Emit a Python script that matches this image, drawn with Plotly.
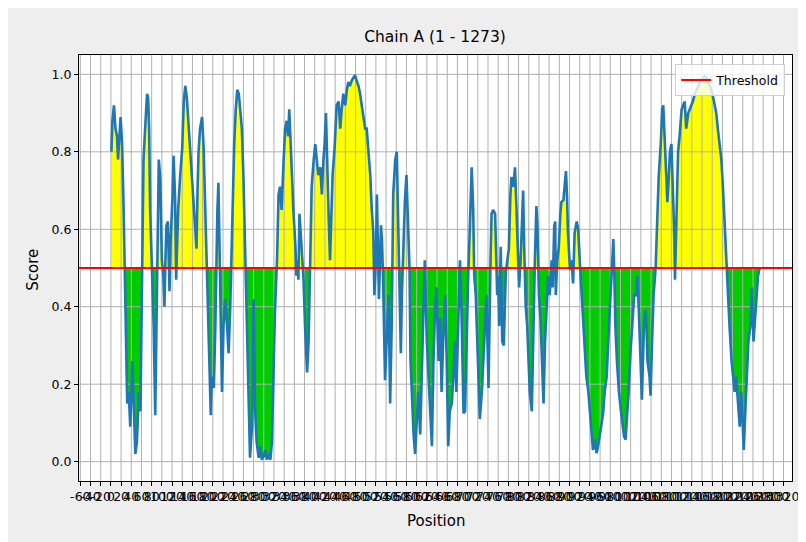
import numpy as np
import plotly.graph_objects as go

# ---- data ----
positions = [1, 3, 6, 9, 12, 14, 19, 22, 25, 27, 30, 32, 35, 38, 42, 45, 48, 51, 55, 58,
             60, 62, 64, 68, 71, 73, 75, 77, 81, 84, 87, 89, 92, 94, 97, 100, 103, 105, 107, 109,
             112, 115, 117, 119, 121, 123, 126, 128, 132, 136, 140, 143, 146, 149, 153, 156, 159, 162, 166, 168,
             170, 172, 175, 179, 182, 185, 188, 192, 194, 196, 198, 202, 205, 207, 209, 211, 213, 216, 218, 221,
             224, 228, 231, 234, 236, 239, 242, 245, 248, 251, 254, 257, 260, 264, 267, 270, 273, 277, 280, 283,
             286, 290, 293, 296, 300, 303, 306, 309, 313, 316, 319, 322, 326, 329, 332, 335, 339, 342, 345, 348,
             350, 352, 355, 358, 362, 364, 366, 368, 370, 373, 376, 378, 381, 383, 385, 388, 390, 392, 394, 398,
             401, 404, 407, 411, 414, 417, 419, 422, 424, 427, 430, 432, 435, 439, 443, 447, 450, 453, 456, 460,
             463, 466, 469, 473, 476, 479, 482, 486, 489, 492, 496, 499, 502, 505, 509, 512, 515, 517, 520, 522,
             524, 526, 530, 532, 534, 536, 538, 541, 545, 548, 551, 554, 558, 561, 563, 565, 569, 571, 574, 577,
             580, 584, 586, 588, 590, 594, 597, 600, 603, 607, 610, 613, 616, 620, 623, 626, 630, 633, 636, 639,
             643, 646, 649, 652, 656, 659, 662, 665, 669, 672, 675, 678, 682, 685, 688, 692, 695, 698, 701, 705,
             708, 711, 713, 716, 718, 721, 724, 728, 731, 734, 737, 741, 743, 745, 747, 750, 754, 756, 758, 760,
             762, 765, 768, 771, 773, 775, 778, 781, 784, 786, 790, 793, 796, 799, 801, 804, 806, 809, 811, 814,
             817, 819, 822, 826, 829, 832, 835, 837, 840, 843, 846, 849, 852, 855, 858, 861, 865, 867, 870, 872,
             873, 876, 879, 882, 884, 888, 891, 893, 895, 897, 901, 904, 907, 910, 914, 917, 920, 924, 927, 930,
             933, 937, 940, 943, 946, 950, 953, 956, 959, 963, 966, 969, 973, 976, 979, 982, 986, 988, 990, 993,
             997, 1001, 1004, 1007, 1010, 1014, 1016, 1020, 1023, 1027, 1030, 1033, 1036, 1040, 1042, 1046, 1049, 1051, 1053, 1057,
             1059, 1062, 1065, 1069, 1072, 1075, 1079, 1082, 1084, 1087, 1090, 1092, 1095, 1097, 1100, 1103, 1105, 1107, 1110, 1113,
             1116, 1120, 1123, 1126, 1129, 1133, 1136, 1139, 1142, 1146, 1149, 1152, 1155, 1159, 1162, 1165, 1169, 1172, 1175, 1178,
             1182, 1185, 1188, 1191, 1195, 1198, 1201, 1204, 1208, 1211, 1214, 1218, 1221, 1224, 1227, 1231, 1234, 1237, 1240, 1242,
             1245, 1248, 1251, 1255, 1258, 1261, 1265, 1268, 1270, 1273]

scores = [0.80, 0.88, 0.92, 0.86, 0.84, 0.78, 0.89, 0.82, 0.65, 0.50, 0.26, 0.15, 0.18, 0.09, 0.26, 0.13, 0.02, 0.05, 0.18, 0.13,
          0.35, 0.52, 0.78, 0.88, 0.95, 0.94, 0.86, 0.65, 0.50, 0.35, 0.12, 0.35, 0.61, 0.78, 0.73, 0.52, 0.48, 0.40, 0.52, 0.61,
          0.62, 0.44, 0.56, 0.62, 0.69, 0.79, 0.68, 0.47, 0.65, 0.74, 0.81, 0.93, 0.97, 0.94, 0.86, 0.81, 0.74, 0.69, 0.61, 0.55,
          0.70, 0.80, 0.86, 0.89, 0.81, 0.65, 0.50, 0.31, 0.18, 0.12, 0.22, 0.19, 0.35, 0.52, 0.65, 0.72, 0.56, 0.43, 0.18, 0.35,
          0.42, 0.35, 0.28, 0.39, 0.50, 0.65, 0.82, 0.91, 0.96, 0.95, 0.91, 0.86, 0.74, 0.52, 0.39, 0.18, 0.01, 0.09, 0.42, 0.13,
          0.05, 0.01, 0.04, 0.005, 0.014, 0.03, 0.005, 0.02, 0.005, 0.05, 0.22, 0.39, 0.52, 0.69, 0.71, 0.65, 0.78, 0.86, 0.88, 0.84,
          0.91, 0.82, 0.75, 0.65, 0.56, 0.48, 0.52, 0.47, 0.64, 0.58, 0.52, 0.47, 0.35, 0.28, 0.23, 0.31, 0.43, 0.61, 0.71, 0.78,
          0.82, 0.78, 0.74, 0.76, 0.69, 0.78, 0.81, 0.90, 0.78, 0.65, 0.52, 0.61, 0.74, 0.81, 0.92, 0.93, 0.86, 0.91, 0.95, 0.92,
          0.96, 0.98, 0.97, 0.985, 0.993, 0.998, 0.985, 0.97, 0.95, 0.92, 0.89, 0.86, 0.86, 0.80, 0.74, 0.65, 0.59, 0.43, 0.52, 0.69,
          0.50, 0.42, 0.61, 0.57, 0.48, 0.35, 0.21, 0.31, 0.43, 0.15, 0.35, 0.69, 0.78, 0.80, 0.69, 0.52, 0.28, 0.43, 0.56, 0.675,
          0.74, 0.61, 0.50, 0.26, 0.18, 0.07, 0.02, 0.09, 0.18, 0.07, 0.22, 0.35, 0.52, 0.31, 0.22, 0.13, 0.04, 0.26, 0.39, 0.45,
          0.26, 0.37, 0.18, 0.31, 0.43, 0.26, 0.04, 0.13, 0.15, 0.22, 0.31, 0.18, 0.35, 0.52, 0.39, 0.125, 0.13, 0.35, 0.47, 0.63,
          0.76, 0.65, 0.48, 0.43, 0.35, 0.26, 0.11, 0.18, 0.26, 0.35, 0.43, 0.19, 0.43, 0.52, 0.64, 0.65, 0.64, 0.52, 0.43, 0.48,
          0.35, 0.555, 0.31, 0.30, 0.43, 0.49, 0.52, 0.55, 0.69, 0.735, 0.71, 0.76, 0.65, 0.55, 0.45, 0.52, 0.62, 0.70, 0.555, 0.40,
          0.35, 0.26, 0.18, 0.13, 0.35, 0.52, 0.66, 0.61, 0.43, 0.37, 0.26, 0.15, 0.31, 0.39, 0.48, 0.43, 0.52, 0.45, 0.61, 0.62,
          0.43, 0.52, 0.555, 0.64, 0.67, 0.675, 0.735, 0.75, 0.69, 0.59, 0.495, 0.52, 0.46, 0.59, 0.62, 0.60, 0.52, 0.43, 0.35, 0.29,
          0.22, 0.18, 0.13, 0.065, 0.03, 0.057, 0.022, 0.04, 0.065, 0.09, 0.125, 0.18, 0.22, 0.31, 0.39, 0.48, 0.575, 0.48, 0.35, 0.26,
          0.18, 0.13, 0.10, 0.065, 0.057, 0.13, 0.18, 0.29, 0.35, 0.43, 0.43, 0.48, 0.39, 0.26, 0.16, 0.35, 0.39, 0.35, 0.26, 0.22,
          0.17, 0.31, 0.43, 0.50, 0.61, 0.735, 0.82, 0.91, 0.92, 0.82, 0.71, 0.67, 0.74, 0.80, 0.82, 0.71, 0.61, 0.47, 0.65, 0.80,
          0.84, 0.91, 0.92, 0.93, 0.86, 0.90, 0.91, 0.92, 0.93, 0.95, 0.96, 0.97, 0.976, 0.985, 0.99, 0.995, 0.99, 0.98, 0.97, 0.96,
          0.94, 0.92, 0.90, 0.86, 0.82, 0.78, 0.71, 0.62, 0.50, 0.43, 0.35, 0.26, 0.21, 0.18, 0.22, 0.13, 0.09, 0.18, 0.09, 0.03,
          0.13, 0.22, 0.31, 0.35, 0.45, 0.31, 0.39, 0.43, 0.48, 0.50]

THRESHOLD = 0.5
x_ticks = list(range(-60, 1321, 20))
y_ticks = [0.0, 0.2, 0.4, 0.6, 0.8, 1.0]
chain_title = "Chain A (1 - 1273)"

# ---- derived geometry ----
x = np.asarray(positions, dtype=float)
y = np.asarray(scores, dtype=float)
span = x.max() - x.min()
x_range = [x.min() - 0.05 * span, x.max() + 0.05 * span]
y_range = [-0.05, 1.05]

# insert threshold crossings so fills meet the threshold line cleanly
xf, yf = [], []
for i in range(len(x) - 1):
    xf.append(x[i]); yf.append(y[i])
    if (y[i] - THRESHOLD) * (y[i + 1] - THRESHOLD) < 0:
        t = (THRESHOLD - y[i]) / (y[i + 1] - y[i])
        xf.append(x[i] + t * (x[i + 1] - x[i])); yf.append(THRESHOLD)
xf.append(x[-1]); yf.append(y[-1])
xf = np.array(xf); yf = np.array(yf)
base = np.full_like(yf, THRESHOLD)

FONT = "DejaVu Sans"
fig = go.Figure()

# yellow fill (above threshold)
fig.add_trace(go.Scatter(x=xf, y=base, mode="lines", line=dict(width=0), showlegend=False, hoverinfo="skip"))
fig.add_trace(go.Scatter(x=xf, y=np.maximum(yf, THRESHOLD), mode="lines", line=dict(width=0),
                         fill="tonexty", fillcolor="#ffff00", showlegend=False, hoverinfo="skip"))
# green fill (below threshold)
fig.add_trace(go.Scatter(x=xf, y=base, mode="lines", line=dict(width=0), showlegend=False, hoverinfo="skip"))
fig.add_trace(go.Scatter(x=xf, y=np.minimum(yf, THRESHOLD), mode="lines", line=dict(width=0),
                         fill="tonexty", fillcolor="#00cc00", showlegend=False, hoverinfo="skip"))

# grid lines (drawn above fills, below the score line, as in the reference)
gx, gy = [], []
for t in x_ticks:
    if x_range[0] <= t <= x_range[1]:
        gx += [t, t, None]; gy += [y_range[0], y_range[1], None]
for t in y_ticks:
    gx += [x_range[0], x_range[1], None]; gy += [t, t, None]
fig.add_trace(go.Scatter(x=gx, y=gy, mode="lines", line=dict(color="#b0b0b0", width=1),
                         showlegend=False, hoverinfo="skip"))

# score line
fig.add_trace(go.Scatter(x=x, y=y, mode="lines", line=dict(color="#1f77b4", width=2.6),
                         showlegend=False, name="Score"))
# threshold
fig.add_trace(go.Scatter(x=x_range, y=[THRESHOLD, THRESHOLD], mode="lines",
                         line=dict(color="red", width=2), name="Threshold"))

axis_common = dict(showgrid=False, zeroline=False, showline=True, mirror=True, linecolor="black",
                   linewidth=1, ticks="outside", ticklen=4, tickcolor="black", automargin=False,
                   tickfont=dict(family=FONT, size=12.5, color="black"))

fig.update_layout(
    width=806, height=542,
    paper_bgcolor="#eeeeee", plot_bgcolor="white",
    margin=dict(l=70.5, r=21.5, t=46.5, b=68.5, autoexpand=False),
    xaxis=dict(range=x_range, tickmode="array", tickvals=x_ticks, ticktext=[str(t) for t in x_ticks],
               tickangle=0, **axis_common),
    yaxis=dict(range=y_range, tickmode="array", tickvals=y_ticks, ticktext=[f"{t:.1f}" for t in y_ticks],
               **axis_common),
    title=dict(text=chain_title, x=427 / 806, xanchor="center", y=1 - 29 / 542, yanchor="middle",
               yref="container", xref="container",
               font=dict(family=FONT, size=15.5, color="black")),
    legend=dict(x=0.9905, xanchor="right", y=0.978, yanchor="top", bgcolor="rgba(255,255,255,0.8)",
                bordercolor="#d0d0d0", borderwidth=1, font=dict(family=FONT, size=12.5, color="black")),
    showlegend=True,
    annotations=[
        dict(text="Score", xref="paper", yref="paper", x=-0.065, y=0.495, textangle=-90,
             showarrow=False, xanchor="center", yanchor="middle", font=dict(family=FONT, size=15, color="black")),
        dict(text="Position", xref="paper", yref="paper", x=0.5, y=-0.095,
             showarrow=False, xanchor="center", yanchor="middle", font=dict(family=FONT, size=15, color="black")),
    ],
)

fig.write_html("out.html")
